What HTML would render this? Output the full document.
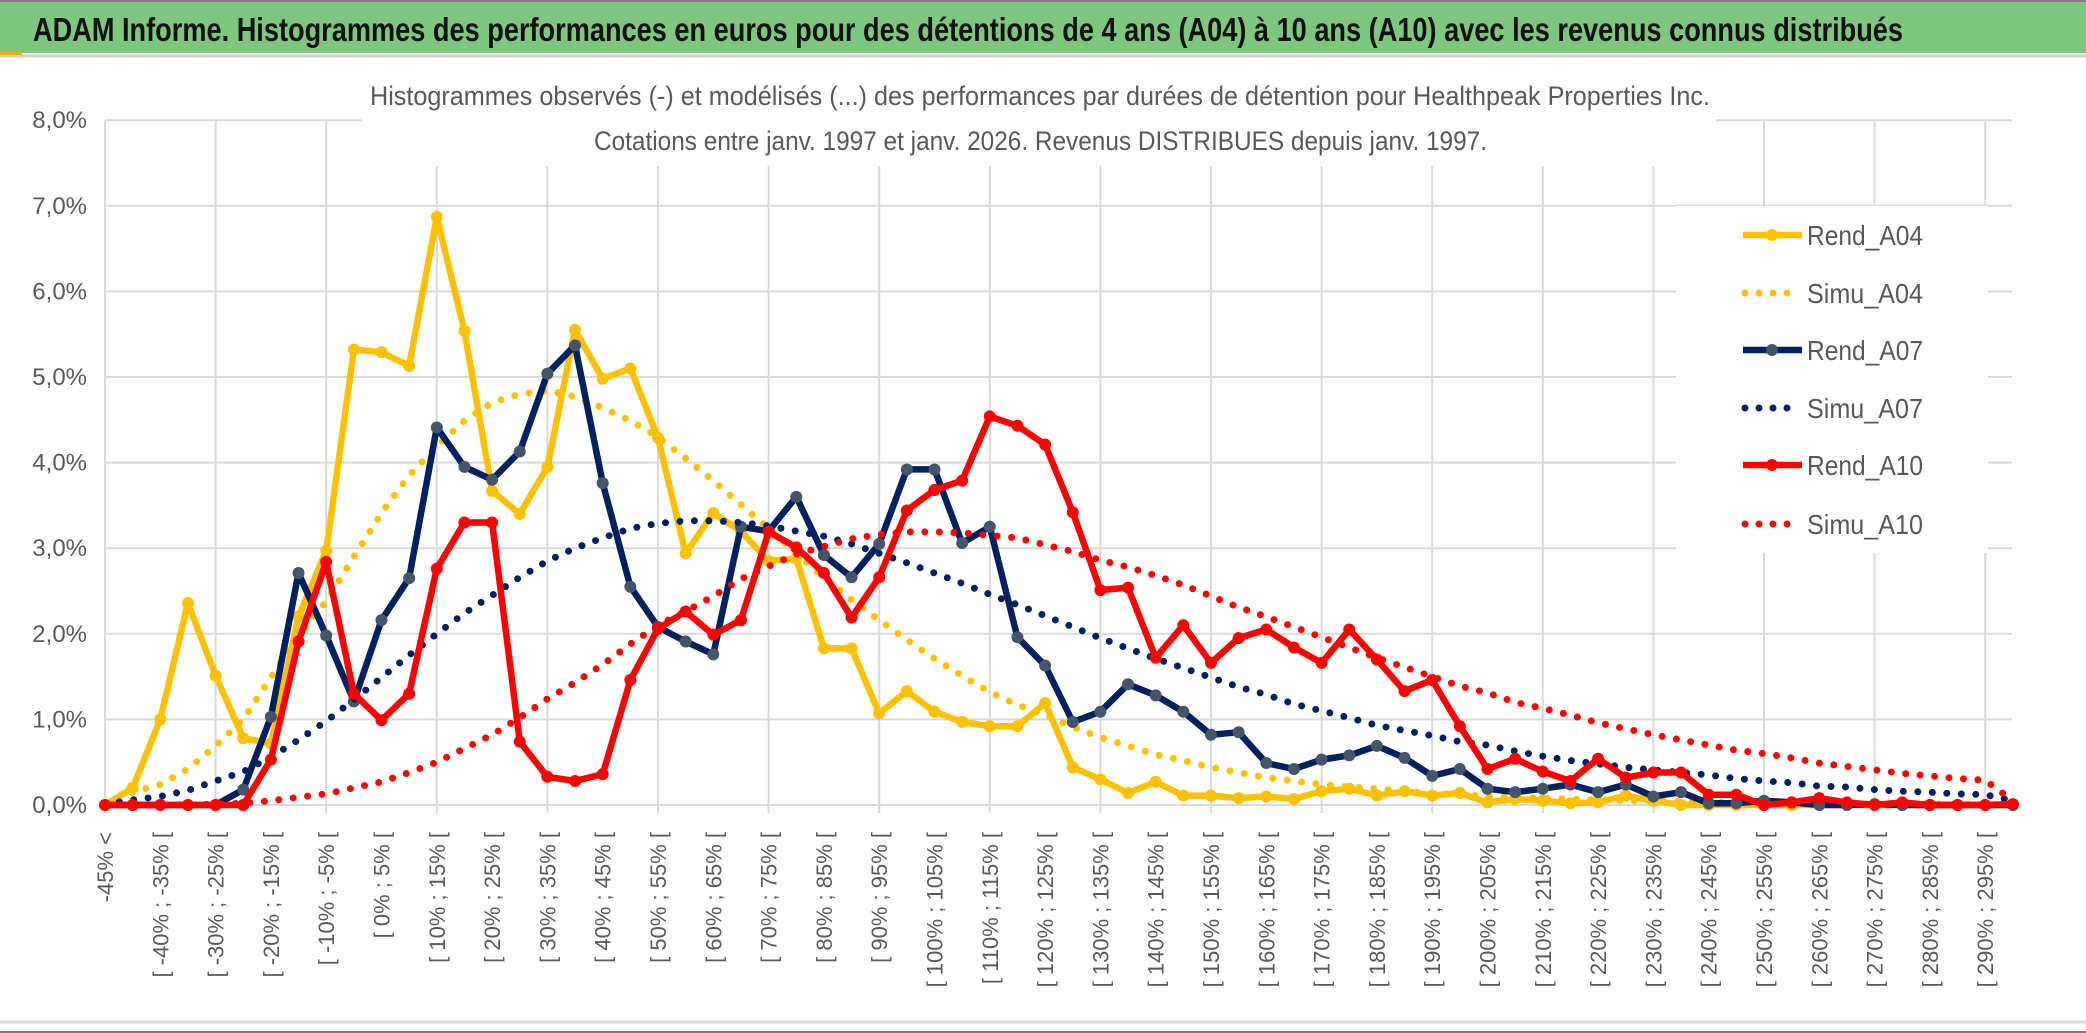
<!DOCTYPE html>
<html><head><meta charset="utf-8"><style>
html,body{margin:0;padding:0;background:#fff;}
svg{display:block;}
text{font-family:"Liberation Sans Narrow","Liberation Sans",sans-serif;}
</style></head><body>
<svg id="chart" width="2086" height="1033" viewBox="0 0 2086 1033" xmlns="http://www.w3.org/2000/svg">
<rect x="0" y="0" width="2086" height="1033" fill="#fff"/>
<rect x="0" y="2" width="2086" height="51" fill="#7ec77f"/>
<line x1="0" y1="1" x2="2086" y2="1" stroke="#7f7f7f" stroke-width="2"/>
<line x1="0" y1="56" x2="2086" y2="56" stroke="#d0d0d0" stroke-width="3"/>
<rect x="0" y="52" width="22" height="3" fill="#f0b400"/>
<text x="33" y="41" font-size="33" font-weight="bold" fill="#111" textLength="1870" lengthAdjust="spacingAndGlyphs">ADAM Informe. Histogrammes des performances en euros pour des détentions de 4 ans (A04) à 10 ans (A10) avec les revenus connus distribués</text>
<g id="grid"></g>
<rect x="362" y="84" width="1354" height="82" fill="#fff"/>
<text x="370" y="105" font-size="27" fill="#595959" textLength="1340" lengthAdjust="spacingAndGlyphs">Histogrammes observés (-) et modélisés (...) des performances par durées de détention pour Healthpeak Properties Inc.</text>
<text x="594" y="150" font-size="27" fill="#595959" textLength="893" lengthAdjust="spacingAndGlyphs">Cotations entre janv. 1997 et janv. 2026. Revenus DISTRIBUES depuis janv. 1997.</text>
<g id="yticks"></g>
<g id="xticks"></g>
<g id="series"></g>
<g id="legend"></g>
<line x1="0" y1="1022" x2="2086" y2="1022" stroke="#d9d9d9" stroke-width="3"/>
<line x1="0" y1="1032" x2="2086" y2="1032" stroke="#7f7f7f" stroke-width="2"/>
</svg>
<script>
var yTicks=[0,1,2,3,4,5,6,7,8];
var yTickLabels=["0,0%","1,0%","2,0%","3,0%","4,0%","5,0%","6,0%","7,0%","8,0%"];
var categories=["-45% <"];
for(var k=1;k<70;k++){var a=-45+5*(k-1);categories.push("[ "+a+"% ; "+(a+5)+"% [");}
var rendA04=[0,0.2,1.0,2.36,1.51,0.78,0.72,2.2,2.97,5.32,5.29,5.13,6.87,5.54,3.67,3.40,3.95,
5.55,4.98,5.10,4.29,2.94,3.41,3.20,2.85,2.88,1.83,1.83,1.07,1.33,1.09,0.97,0.92,0.92,
1.19,0.44,0.30,0.14,0.27,0.11,0.11,0.08,0.10,0.07,0.16,0.19,0.11,0.16,0.11,0.14,
0.03,0.07,0.05,0.02,0.03,0.11,0.05,0,0,0,0,0,0,0,0,0,0,0,0,0];
var simuA04=[0.02,0.15,0.24,0.42,0.69,1.0,1.49,1.98,2.38,2.9,3.41,3.85,4.19,4.49,4.70,4.80,4.84,
4.77,4.64,4.49,4.30,4.05,3.79,3.51,3.23,2.94,2.66,2.40,2.16,1.93,1.71,1.51,1.32,1.17,
1.05,0.91,0.79,0.69,0.59,0.52,0.44,0.38,0.32,0.28,0.24,0.21,0.19,0.16,0.14,0.12,
0.10,0.09,0.08,0.07,0.06,0.05,0.05,0.04,0.03,0.03,0.03,0.02,0.02,0.02,0.01,0.01,0.01,0.01,0.01,0.0];
var rendA07=[0,0,0,0,0,0.18,1.03,2.71,1.98,1.21,2.16,2.65,4.41,3.95,3.80,4.13,5.04,
5.37,3.76,2.55,2.08,1.91,1.76,3.25,3.20,3.60,2.92,2.66,3.05,3.92,3.92,3.06,3.25,1.96,
1.63,0.97,1.09,1.41,1.28,1.09,0.82,0.85,0.49,0.42,0.53,0.58,0.69,0.55,0.34,0.42,
0.19,0.15,0.19,0.24,0.15,0.24,0.10,0.15,0.02,0.02,0.05,0.03,0,0,0.01,0,0,0,0,0];
var simuA07=[0.01,0.06,0.10,0.17,0.28,0.39,0.56,0.76,0.98,1.23,1.49,1.75,2.0,2.24,2.45,2.66,2.85,
3.00,3.12,3.23,3.29,3.32,3.32,3.30,3.26,3.20,3.14,3.05,2.94,2.83,2.71,2.59,2.46,2.34,
2.21,2.08,1.95,1.83,1.71,1.60,1.49,1.38,1.29,1.18,1.10,1.02,0.93,0.87,0.81,0.74,
0.70,0.63,0.57,0.52,0.48,0.44,0.41,0.38,0.35,0.31,0.28,0.26,0.22,0.21,0.18,0.16,0.15,0.13,0.12,0.05];
var rendA10=[0,0,0,0,0,0,0.53,1.91,2.84,1.30,0.99,1.30,2.76,3.30,3.30,0.74,0.33,
0.28,0.36,1.46,2.06,2.26,1.99,2.16,3.19,3.01,2.71,2.19,2.66,3.44,3.68,3.79,4.54,4.43,
4.21,3.42,2.51,2.54,1.72,2.10,1.66,1.95,2.05,1.84,1.66,2.05,1.70,1.33,1.46,0.92,
0.42,0.54,0.39,0.28,0.54,0.32,0.38,0.38,0.12,0.12,0,0.03,0.08,0.03,0,0.03,0,0,0,0.01];
var simuA10=[0,0,0,0,0.01,0.02,0.05,0.09,0.13,0.20,0.27,0.38,0.50,0.66,0.82,1.02,1.24,
1.43,1.64,1.88,2.10,2.26,2.44,2.64,2.79,2.93,3.02,3.11,3.16,3.19,3.19,3.18,3.15,3.12,
3.04,2.96,2.86,2.78,2.68,2.57,2.44,2.31,2.20,2.08,1.96,1.84,1.72,1.61,1.50,1.39,
1.31,1.20,1.13,1.05,0.96,0.89,0.82,0.76,0.70,0.64,0.60,0.55,0.49,0.45,0.41,0.37,0.34,0.31,0.29,0.05];

var NS="http://www.w3.org/2000/svg";
var X0=105,STEP=27.65,Y0=805,YU=85.6,XR=2012;
function xs(i){return X0+i*STEP;}
function ys(v){return Y0-v*YU;}
function mk(tag,attrs,parent){var e=document.createElementNS(NS,tag);for(var a in attrs)e.setAttribute(a,attrs[a]);parent.appendChild(e);return e;}

var grid=document.getElementById('grid');
yTicks.forEach(function(t){
  var l=mk('line',{x1:X0,y1:ys(t),x2:XR,y2:ys(t),stroke:'#d9d9d9','stroke-width':2},grid);
  
  
});
for(var i=0;i<categories.length;i+=4){
  var l=mk('line',{x1:xs(i),y1:ys(8),x2:xs(i),y2:ys(0)+8,stroke:'#d9d9d9','stroke-width':2},grid);
  
  
}
var yt=document.getElementById('yticks');
yTicks.forEach(function(t,j){
  var tx=mk('text',{x:87,y:ys(t)+8,'font-size':24,fill:'#595959','text-anchor':'end'},yt);
  tx.textContent=yTickLabels[j];
  
  
});
var xt=document.getElementById('xticks');
for(var i=0;i<categories.length;i+=2){
  var x=xs(i)+8,y=832;
  var tx=mk('text',{x:x,y:y,'font-size':22,fill:'#595959','text-anchor':'end',transform:'rotate(-90 '+x+' '+y+')',style:'font-family:"Liberation Sans",sans-serif'},xt);
  tx.textContent=categories[i];
  
  
}
var sg=document.getElementById('series');
function pts(arr){return arr.map(function(v,i){return xs(i).toFixed(1)+','+ys(v).toFixed(1);}).join(' ');}
function rend(arr,color,mcolor,name){
  var g=mk('g',{},sg);
  
  
  mk('polyline',{points:pts(arr),fill:'none',stroke:color,'stroke-width':6.5,'stroke-linejoin':'round'},g);
  arr.forEach(function(v,i){
    var c=mk('circle',{cx:xs(i),cy:ys(v),r:6,fill:mcolor},g);
    
    
  });
}
function simu(arr,color,name){
  var p=mk('polyline',{points:pts(arr),fill:'none',stroke:color,'stroke-width':7,'stroke-linecap':'round','stroke-dasharray':'0 14.5'},sg);
  
  
}
rend(rendA04,'#ffc000','#ffc000','rend-a04-line');
simu(simuA04,'#ffc000','simu-a04-line');
rend(rendA07,'#002060','#44546a','rend-a07-line');
simu(simuA07,'#002060','simu-a07-line');
rend(rendA10,'#ff0000','#ff0000','rend-a10-line');
simu(simuA10,'#ff0000','simu-a10-line');

var lg=document.getElementById('legend');
mk('rect',{x:1676,y:206,width:312,height:347,fill:'#fff'},lg);
var legendNames=['Rend_A04','Simu_A04','Rend_A07','Simu_A07','Rend_A10','Simu_A10'];
var legendColors=['#ffc000','#ffc000','#002060','#002060','#ff0000','#ff0000'];
var legendMarkers=['#ffc000',null,'#44546a',null,'#ff0000',null];
var legendY=[235,293,350,408,465,524];
legendNames.forEach(function(n,j){
  var g=mk('g',{},lg);
  
  
  var y=legendY[j];
  if(legendMarkers[j]){
    mk('line',{x1:1743,y1:y,x2:1802,y2:y,stroke:legendColors[j],'stroke-width':6.5},g);
    mk('circle',{cx:1772,cy:y,r:6,fill:legendMarkers[j]},g);
  } else {
    mk('line',{x1:1745,y1:y,x2:1800,y2:y,stroke:legendColors[j],'stroke-width':7,'stroke-linecap':'round','stroke-dasharray':'0 14'},g);
  }
  var t=mk('text',{x:1807,y:y+10,'font-size':28,fill:'#595959',textLength:116,lengthAdjust:'spacingAndGlyphs'},g);
  t.textContent=n;
});
</script>
</body></html>
